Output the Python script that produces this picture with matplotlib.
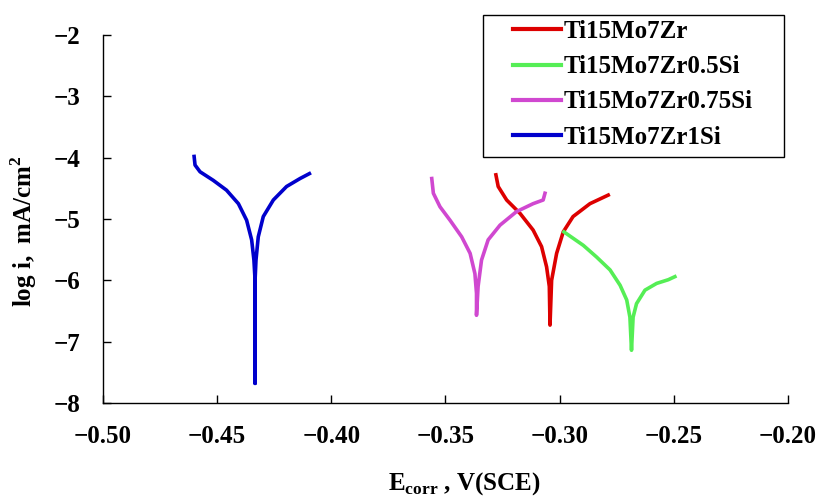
import matplotlib
matplotlib.use('Agg')
import matplotlib.pyplot as plt
from matplotlib.patches import Rectangle

plt.rcParams['font.family'] = ['Liberation Serif', 'DejaVu Serif']
plt.rcParams['font.weight'] = 'bold'
plt.rcParams['mathtext.fontset'] = 'custom'
plt.rcParams['mathtext.rm'] = 'Liberation Serif:bold'

# Ti15Mo7Zr
e_zr = [-0.3279, -0.3269, -0.3232, -0.3173, -0.3116, -0.3079, -0.3057, -0.3045, -0.3042,
        -0.3035, -0.3013, -0.2984, -0.2941, -0.2867, -0.2787]
i_zr = [-4.28, -4.47, -4.69, -4.91, -5.18, -5.45, -5.78, -6.10, -6.73,
        -6.00, -5.56, -5.21, -4.96, -4.75, -4.61]

# Ti15Mo7Zr0.5Si
e_05 = [-0.2981, -0.2896, -0.2838, -0.2779, -0.2735, -0.2706, -0.2692, -0.2685,
        -0.2678, -0.2663, -0.2626, -0.2575, -0.2524, -0.2495]
i_05 = [-5.21, -5.43, -5.62, -5.83, -6.08, -6.32, -6.60, -7.14,
        -6.60, -6.38, -6.16, -6.05, -5.99, -5.94]

# Ti15Mo7Zr0.75Si
e_075 = [-0.3560, -0.3553, -0.3524, -0.3480, -0.3429, -0.3392, -0.3371, -0.3364, -0.3364,
         -0.3357, -0.3342, -0.3313, -0.3261, -0.3189, -0.3116, -0.3072, -0.3064]
i_075 = [-4.34, -4.58, -4.80, -5.02, -5.29, -5.56, -5.89, -6.21, -6.57,
         -6.10, -5.67, -5.34, -5.10, -4.88, -4.75, -4.69, -4.58]

# Ti15Mo7Zr1Si
e_1 = [-0.4601, -0.4597, -0.4575, -0.4517, -0.4459, -0.4407, -0.4371, -0.4349, -0.4339,
       -0.4334, -0.4334, -0.4334, -0.4330, -0.4320, -0.4298, -0.4254, -0.4196, -0.4137, -0.4096]
i_1 = [-3.98, -4.12, -4.23, -4.37, -4.53, -4.75, -5.02, -5.34, -5.67,
       -6.00, -7.68, -6.00, -5.67, -5.29, -4.96, -4.69, -4.47, -4.34, -4.26]

x_ticks = [-0.50, -0.45, -0.40, -0.35, -0.30, -0.25, -0.20]
y_ticks = [-8, -7, -6, -5, -4, -3, -2]

fig = plt.figure(figsize=(8.19, 4.96), dpi=100)
ax = fig.add_axes([0.1258, 0.1875, 0.8362, 0.7419])

lw = 2.6
ax.plot(e_zr, i_zr, color='#dd0000', lw=lw, label='Ti15Mo7Zr', solid_joinstyle='round')
ax.plot(e_05, i_05, color='#55ee55', lw=lw, label='Ti15Mo7Zr0.5Si', solid_joinstyle='round')
ax.plot(e_075, i_075, color='#d048d0', lw=lw, label='Ti15Mo7Zr0.75Si', solid_joinstyle='round')
ax.plot(e_1, i_1, color='#0000cc', lw=lw, label='Ti15Mo7Zr1Si', solid_joinstyle='round')

ax.set_xlim(-0.50, -0.20)
ax.set_ylim(-8, -2)
ax.set_xticks(x_ticks)
ax.set_yticks(y_ticks)
ax.set_xticklabels(['\u2212%.2f' % abs(v) for v in x_ticks])
ax.set_yticklabels(['\u2212%d' % abs(v) for v in y_ticks])
ax.spines['top'].set_visible(False)
ax.spines['right'].set_visible(False)
for s in ['left', 'bottom']:
    ax.spines[s].set_linewidth(1.0)
ax.tick_params(direction='in', length=6, width=1, labelsize=18)
ax.tick_params(axis='x', pad=16)
ax.tick_params(axis='y', pad=16)
for t in ax.get_xticklabels() + ax.get_yticklabels():
    t.set_fontweight('bold')

ax.set_xlabel(r'E$_{\mathregular{corr}}$ , V(SCE)', fontsize=18, fontweight='bold')
ax.set_ylabel(r'log i,  mA/cm$^{\mathregular{2}}$', fontsize=18, fontweight='bold')
ax.xaxis.set_label_coords(0.527, -0.182)
ax.yaxis.set_label_coords(-0.094, 0.467)

leg = ax.legend(loc='upper left', bbox_to_anchor=(513 / 819, 1 - 20 / 496),
                bbox_transform=fig.transFigure, frameon=False,
                prop={'size': 18, 'weight': 'bold'},
                handlelength=1.9, handletextpad=0.12, labelspacing=0.49,
                borderpad=0, borderaxespad=0)
for h in leg.get_lines():
    h.set_linewidth(3)
fig.patches.append(Rectangle((483 / 819, 1 - 157 / 496), 301 / 819, 142 / 496,
                             transform=fig.transFigure, fill=False,
                             edgecolor='black', linewidth=1.0))

fig.savefig('out.png', dpi=100)
